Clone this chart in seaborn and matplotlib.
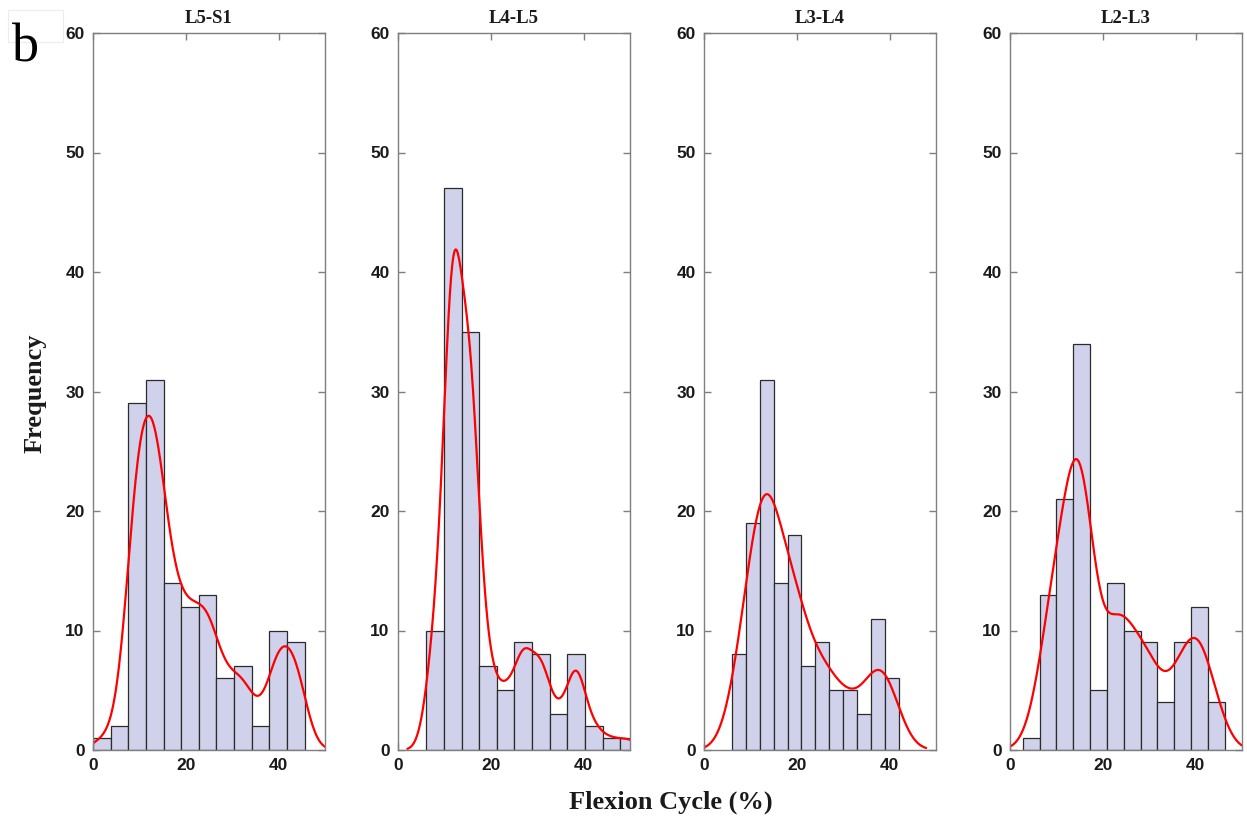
import numpy as np
import pandas as pd
import matplotlib
matplotlib.use("Agg")
import matplotlib.pyplot as plt
from matplotlib.patches import Rectangle
import seaborn as sns

# ---- data ----
levels = ["L5-S1", "L4-L5", "L3-L4", "L2-L3"]

edges_l5s1 = [0.0, 3.8, 7.6, 11.4, 15.2, 19.0, 22.8, 26.6, 30.4, 34.2, 38.0, 41.8, 45.6]
counts_l5s1 = [1, 2, 29, 31, 14, 12, 13, 6, 7, 2, 10, 9]

edges_l4l5 = [6.1, 9.9, 13.7, 17.5, 21.3, 25.1, 28.9, 32.7, 36.5, 40.3, 44.1, 47.9, 51.7]
counts_l4l5 = [10, 47, 35, 7, 5, 9, 8, 3, 8, 2, 1, 1]

edges_l3l4 = [6.0, 9.0, 12.0, 15.0, 18.0, 21.0, 24.0, 27.0, 30.0, 33.0, 36.0, 39.0, 42.0]
counts_l3l4 = [8, 19, 31, 14, 18, 7, 9, 5, 5, 3, 11, 6]

edges_l2l3 = [2.73, 6.36, 9.99, 13.62, 17.25, 20.88, 24.51, 28.14, 31.77, 35.40, 39.03, 42.66, 46.29]
counts_l2l3 = [1, 13, 21, 34, 5, 14, 10, 9, 4, 9, 12, 4]

all_edges = [edges_l5s1, edges_l4l5, edges_l3l4, edges_l2l3]
all_counts = [counts_l5s1, counts_l4l5, counts_l3l4, counts_l2l3]

xticks = [0, 20, 40]
yticks = [0, 10, 20, 30, 40, 50, 60]

# ---- style ----
sns.set_style("white")
plt.rcParams["font.family"] = ["Liberation Sans", "DejaVu Sans"]
serif = ["Liberation Serif", "DejaVu Serif"]

W, H = 1247, 819
fig = plt.figure(figsize=(W / 100, H / 100), dpi=100)

lefts = [93, 398, 704, 1010]
ax_w, ax_top, ax_bot = 232, 33, 750

bar_color = "#d0d1ea"
spine_color = "#7f7f7f"
bws = [0.215, 0.19, 0.31, 0.25]
cuts = [3, 2.3, 2.2, 2.0]

for i, (lvl, edges, counts) in enumerate(zip(levels, all_edges, all_counts)):
    ax = fig.add_axes([lefts[i] / W, (H - ax_bot) / H, ax_w / W, (ax_bot - ax_top) / H])
    e = np.array(edges)
    centers = (e[:-1] + e[1:]) / 2
    df = pd.DataFrame({"x": centers, "w": counts})
    sns.histplot(data=df, x="x", weights="w", bins=edges, stat="count",
                 kde=True, kde_kws={"bw_method": bws[i], "cut": cuts[i], "gridsize": 400},
                 color=bar_color, edgecolor="#2b2b2b", linewidth=0.9, alpha=1.0,
                 line_kws={"color": "red", "linewidth": 1.6}, ax=ax)
    for ln in ax.lines:
        ln.set_color("red")
        ln.set_linewidth(1.6)
    ax.set_xlim(0, 50)
    ax.set_ylim(0, 60)
    ax.set_xticks(xticks)
    ax.set_yticks(yticks)
    ax.set_xlabel("")
    ax.set_ylabel("")
    ax.tick_params(direction="in", length=5, width=1, color=spine_color,
                   top=True, right=True, bottom=True, left=True,
                   labelsize=12.5, pad=6)
    for lab in ax.get_xticklabels() + ax.get_yticklabels():
        lab.set_fontweight("bold")
        lab.set_color("#1a1a1a")
    for sp in ax.spines.values():
        sp.set_visible(True)
        sp.set_color(spine_color)
        sp.set_linewidth(1.0)
    ax.set_title(lvl, fontfamily=serif, fontweight="bold", fontsize=13.5, pad=7, color="#1a1a1a")

fig.text(35 / W, 1 - 393 / H, "Frequency", rotation=90, ha="center", va="center",
         fontfamily=serif, fontweight="bold", fontsize=19, color="#1a1a1a")
fig.text(671 / W, 1 - 802 / H, "Flexion Cycle (%)", ha="center", va="center",
         fontfamily=serif, fontweight="bold", fontsize=19, color="#1a1a1a")
fig.patches.append(Rectangle((8 / W, 1 - 42 / H), 55 / W, 32 / H, transform=fig.transFigure,
                             facecolor="none", edgecolor="#ececec", linewidth=0.8))
fig.text(26 / W, 1 - 62 / H, "b", ha="center", va="baseline",
         fontfamily=serif, fontsize=39, color="black")

fig.savefig("out.png", dpi=100, facecolor="white")
